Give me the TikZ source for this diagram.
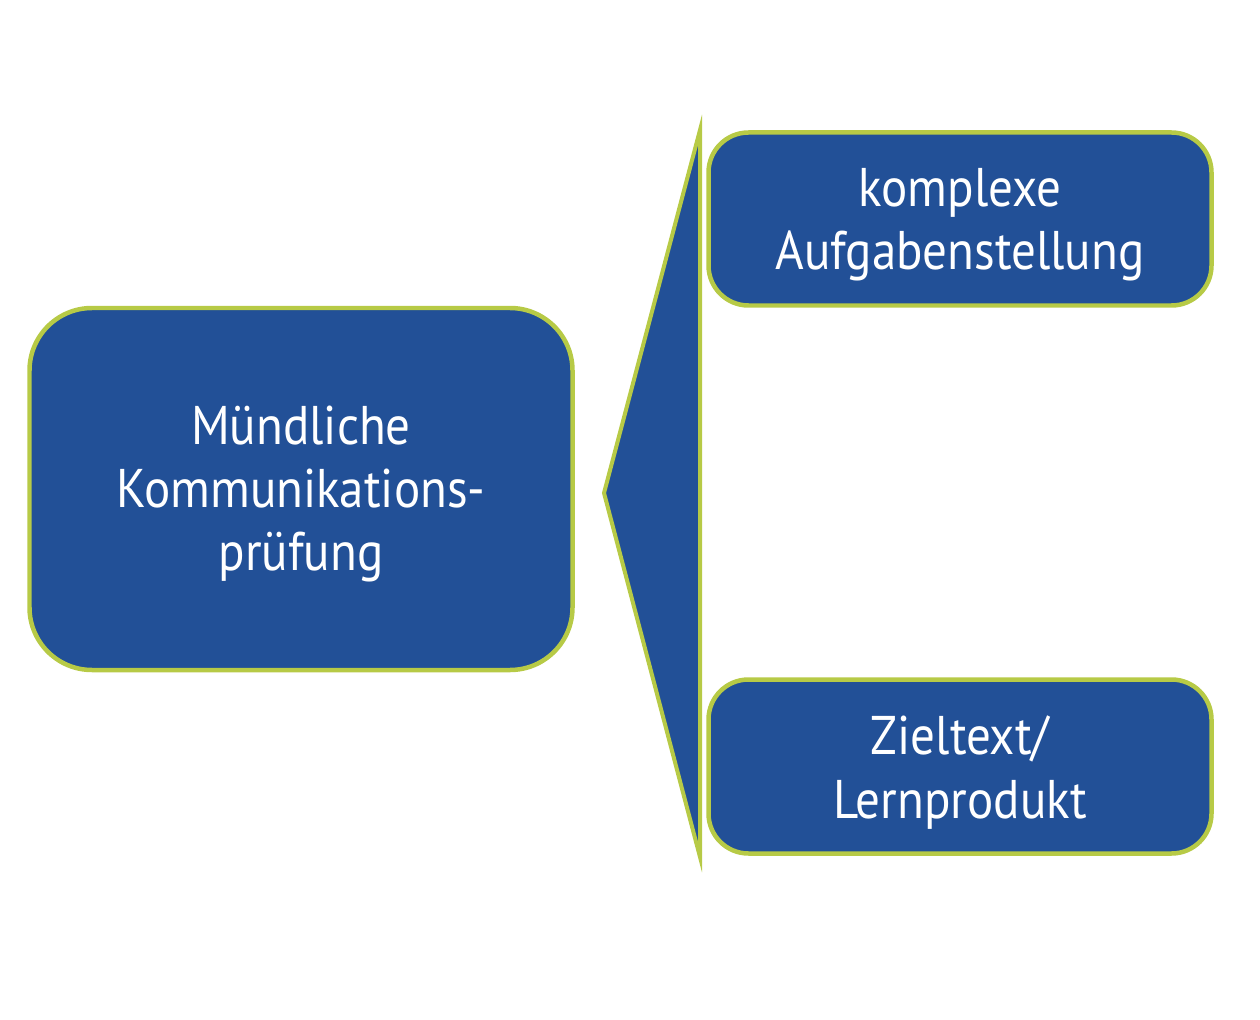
\documentclass[tikz,border=0pt]{standalone}
\usepackage{fontspec}
\setmainfont[FakeStretch=0.9]{PT Sans}
\definecolor{boxblue}{RGB}{34,80,151}
\definecolor{boxgreen}{RGB}{183,202,70}
\begin{document}
\begin{tikzpicture}[x=0.02cm,y=-0.02cm,
  box/.style={draw=boxgreen,fill=boxblue,line width=0.09cm,inner sep=0pt},
  boxtext/.style={text=white,align=center,font=\fontsize{31}{36}\selectfont,inner sep=0pt},
]
\useasboundingbox (0,0) rectangle (1260,1020);
\coordinate (wt) at (700,130);
\coordinate (wp) at (604,493);
\coordinate (wb) at (700,857);
\draw[draw=boxgreen,fill=boxblue,line width=0.08cm,line join=miter] (wt) -- (wp) -- (wb) -- cycle;
\node[box,rounded corners=1.25cm,minimum width=543*0.02cm,minimum height=362*0.02cm] (m) at (301,489) {};
\node[box,rounded corners=0.8cm,minimum width=503*0.02cm,minimum height=173*0.02cm] (a) at (960,219) {};
\node[box,rounded corners=0.8cm,minimum width=503*0.02cm,minimum height=174*0.02cm] (z) at (960,766.5) {};
\node[boxtext] (mt) at ([yshift=-0.1cm]m.center) {Mündliche\\Kommunikations-\\prüfung};
\node[boxtext] (at) at ([yshift=-0.12cm]a.center) {komplexe\\Aufgabenstellung};
\node[boxtext] (zt) at ([yshift=-0.12cm]z.center) {Zieltext/\\Lernprodukt};
\end{tikzpicture}
\end{document}
